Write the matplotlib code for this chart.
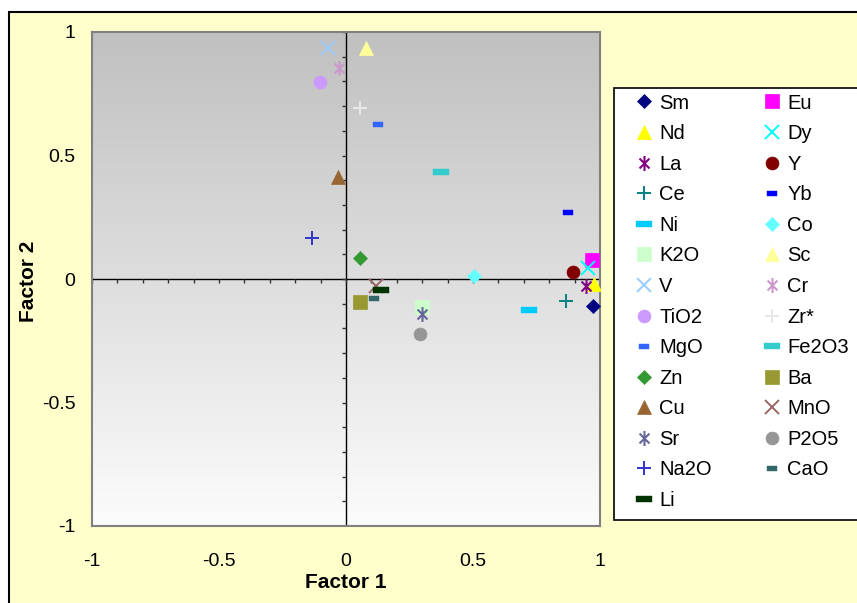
import numpy as np
import matplotlib
matplotlib.use('Agg')
import matplotlib.pyplot as plt
from matplotlib.path import Path
from matplotlib.patches import Rectangle
from matplotlib.markers import TICKLEFT, TICKDOWN

plt.rcParams['font.family'] = ['Liberation Sans', 'DejaVu Sans']

# factor loadings
labels = ['Sm', 'Eu', 'Nd', 'Dy', 'La', 'Y', 'Ce', 'Yb', 'Ni', 'Co', 'K2O', 'Sc', 'V', 'Cr',
          'TiO2', 'Zr*', 'MgO', 'Fe2O3', 'Zn', 'Ba', 'Cu', 'MnO', 'Sr', 'P2O5', 'Na2O', 'CaO', 'Li']
factor1 = [0.974, 0.969, 0.976, 0.953, 0.945, 0.894, 0.866, 0.874, 0.720, 0.504, 0.299, 0.079, -0.071, -0.028,
           -0.102, 0.055, 0.126, 0.374, 0.055, 0.055, -0.032, 0.118, 0.299, 0.291, -0.134, 0.110, 0.138]
factor2 = [-0.111, 0.077, -0.020, 0.045, -0.028, 0.028, -0.089, 0.271, -0.125, 0.012, -0.113, 0.935, 0.935, 0.854,
           0.798, 0.692, 0.628, 0.433, 0.085, -0.093, 0.413, -0.028, -0.142, -0.223, 0.166, -0.077, -0.045]

colors = ['#000080', '#FF00FF', '#FFFF00', '#00FFFF', '#800080', '#800000', '#008080', '#0000FF', '#00CCFF',
          '#66FFFF', '#CCFFCC', '#FFFF99', '#99CCFF', '#CC99CC', '#CC99FF', '#E8E8E8', '#3366FF', '#33CCCC',
          '#339933', '#999933', '#996633', '#996666', '#666699', '#969696', '#3333CC', '#336666', '#003300']
kinds = ['diamond', 'square', 'tri', 'x', 'star', 'circle', 'plus', 'sdash', 'ldash', 'diamond', 'square', 'tri',
         'x', 'star', 'circle', 'plus', 'sdash', 'ldash', 'diamond', 'square', 'tri', 'x', 'star', 'circle',
         'plus', 'sdash', 'ldash']

# marker shapes similar to excel ones
star_path = Path([(0, -1), (0, 1), (-0.66, -0.66), (0.66, 0.66), (-0.66, 0.66), (0.66, -0.66)],
                 [Path.MOVETO, Path.LINETO, Path.MOVETO, Path.LINETO, Path.MOVETO, Path.LINETO])
long_dash = [(-1, -0.32), (1, -0.32), (1, 0.32), (-1, 0.32), (-1, -0.32)]
short_dash = [(-1, -0.5), (1, -0.5), (1, 0.5), (-1, 0.5), (-1, -0.5)]

def marker_style(kind, c):
    if kind == 'diamond':
        return dict(marker='D', ms=7.2, mfc=c, mec=c, mew=0.5)
    if kind == 'square':
        return dict(marker='s', ms=9.6, mfc=c, mec=c, mew=0.5)
    if kind == 'tri':
        return dict(marker='^', ms=9.6, mfc=c, mec=c, mew=0.5)
    if kind == 'circle':
        return dict(marker='o', ms=9.3, mfc=c, mec=c, mew=0.5)
    if kind == 'x':
        return dict(marker='x', ms=9.4, mec=c, mew=1.4)
    if kind == 'plus':
        return dict(marker='+', ms=9.6, mec=c, mew=1.4)
    if kind == 'star':
        return dict(marker=star_path, ms=10.8, mfc='none', mec=c, mew=1.5)
    if kind == 'ldash':
        return dict(marker=long_dash, ms=11.5, mfc=c, mec=c, mew=0.3)
    return dict(marker=short_dash, ms=7.2, mfc=c, mec=c, mew=0.3)

W, H = 857, 603
fig = plt.figure(figsize=(W / 100, H / 100), dpi=100, facecolor='white')

# yellow chart area and legend frame
fig.add_artist(Rectangle((9 / W, -0.05), 1.1, (H - 12) / H + 0.05, transform=fig.transFigure,
                         fc='#FFFFCC', ec='black', lw=1.5, zorder=-2))
fig.add_artist(Rectangle((614 / W, 1 - 520 / H), 0.5, (520 - 88) / H, transform=fig.transFigure,
                         fc='white', ec='black', lw=1.2, zorder=-1))

ax = fig.add_axes([92 / W, 1 - 526 / H, (600 - 92) / W, (526 - 32) / H])
ax.set_xlim(-1, 1)
ax.set_ylim(-1, 1)

# gray gradient background
grad = np.linspace(252, 192, 256).reshape(-1, 1) / 255.0
ax.imshow(np.dstack([grad, grad, grad]), extent=[-1, 1, -1, 1], aspect='auto', origin='lower', zorder=0)

for s in ax.spines.values():
    s.set_color('#808080')
    s.set_linewidth(1.5)

# axes through zero with small ticks
ax.axhline(0, color='black', lw=1.0, zorder=1)
ax.axvline(0, color='black', lw=1.0, zorder=1)
minor = np.round(np.arange(-1, 1.01, 0.1), 2)
ax.plot(np.zeros_like(minor), minor, ls='none', marker=TICKLEFT, ms=3, mew=1.0, color='#333333', zorder=1)
ax.plot(minor, np.zeros_like(minor), ls='none', marker=TICKDOWN, ms=3, mew=1.0, color='#333333', zorder=1)

ticks = [-1, -0.5, 0, 0.5, 1]
tick_text = ['-1', '-0.5', '0', '0.5', '1']
ax.set_xticks(ticks)
ax.set_xticklabels(tick_text)
ax.set_yticks(ticks)
ax.set_yticklabels(tick_text)
ax.tick_params(axis='x', length=0, pad=19.5, labelsize=14)
ax.tick_params(axis='y', length=0, pad=12, labelsize=14)

handles = []
for i in range(len(labels)):
    h, = ax.plot([factor1[i]], [factor2[i]], ls='none', label=labels[i], zorder=3,
                 **marker_style(kinds[i], colors[i]))
    handles.append(h)

fig.text(346 / W, 1 - 583 / H, 'Factor 1', ha='center', va='center', fontsize=15, fontweight='bold')
fig.text(29 / W, 1 - 281 / H, 'Factor 2', ha='center', va='center', rotation=90, fontsize=15, fontweight='bold')

# excel fills the legend row by row
order = list(range(0, len(handles), 2)) + list(range(1, len(handles), 2))
fig.legend([handles[i] for i in order], [labels[i] for i in order], ncol=2, frameon=False,
           loc='upper left', bbox_to_anchor=(632 / W, 1 - 91.5 / H), bbox_transform=fig.transFigure,
           fontsize=14.5, handlelength=1.0, handletextpad=0.25, columnspacing=2.5,
           labelspacing=0.575, borderpad=0.1, borderaxespad=0, numpoints=1)

fig.savefig('out.png', dpi=100)
